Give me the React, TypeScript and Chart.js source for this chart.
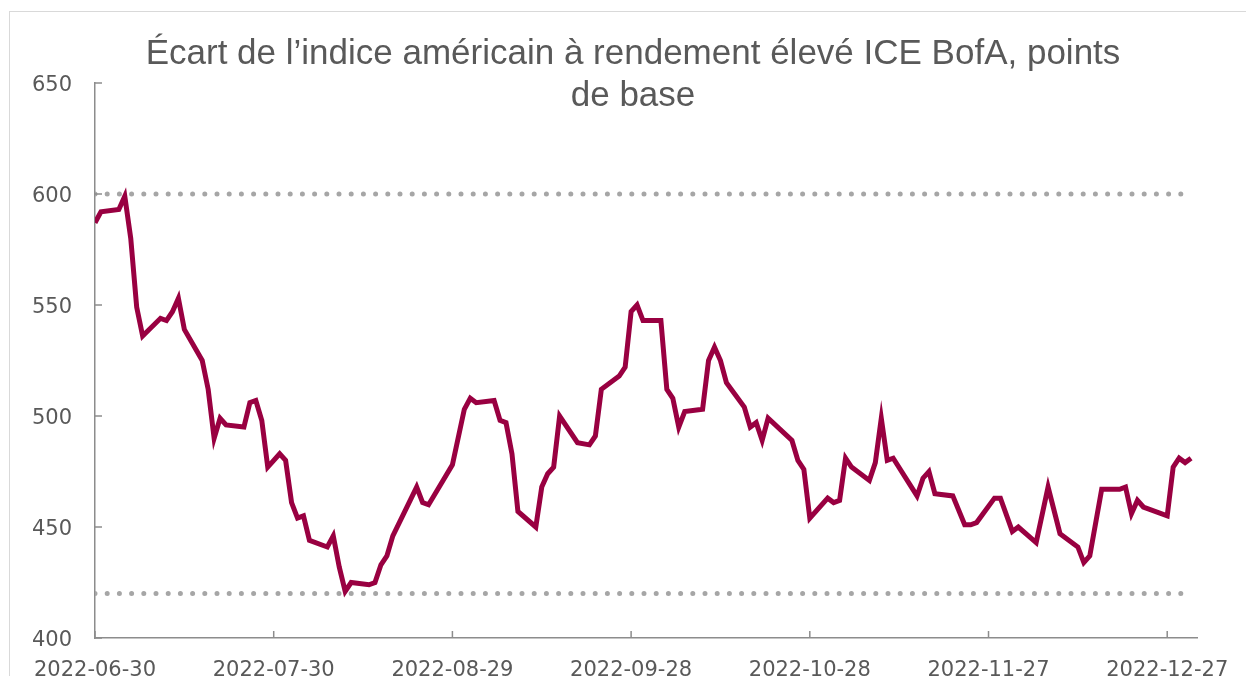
import React, { useEffect, useRef } from "react";
import { Chart, registerables } from "chart.js";

Chart.register(...registerables);

// ---- Data ----
const dates: string[] = [
  "2022-06-30", "2022-07-01", "2022-07-04", "2022-07-05", "2022-07-06", "2022-07-07", "2022-07-08",
  "2022-07-11", "2022-07-12", "2022-07-13", "2022-07-14", "2022-07-15",
  "2022-07-18", "2022-07-19", "2022-07-20", "2022-07-21", "2022-07-22",
  "2022-07-25", "2022-07-26", "2022-07-27", "2022-07-28", "2022-07-29",
  "2022-07-31", "2022-08-01", "2022-08-02", "2022-08-03", "2022-08-04", "2022-08-05",
  "2022-08-08", "2022-08-09", "2022-08-10", "2022-08-11", "2022-08-12",
  "2022-08-15", "2022-08-16", "2022-08-17", "2022-08-18", "2022-08-19",
  "2022-08-23", "2022-08-24", "2022-08-25", "2022-08-29", "2022-08-31",
  "2022-09-01", "2022-09-02", "2022-09-05", "2022-09-06", "2022-09-07", "2022-09-08", "2022-09-09",
  "2022-09-12", "2022-09-13", "2022-09-14", "2022-09-15", "2022-09-16",
  "2022-09-19", "2022-09-21", "2022-09-22", "2022-09-23",
  "2022-09-26", "2022-09-27", "2022-09-28", "2022-09-29", "2022-09-30",
  "2022-10-03", "2022-10-04", "2022-10-05", "2022-10-06", "2022-10-07",
  "2022-10-10", "2022-10-11", "2022-10-12", "2022-10-13", "2022-10-14",
  "2022-10-17", "2022-10-18", "2022-10-19", "2022-10-20", "2022-10-21",
  "2022-10-25", "2022-10-26", "2022-10-27", "2022-10-28",
  "2022-10-31", "2022-11-01", "2022-11-02", "2022-11-03", "2022-11-04",
  "2022-11-07", "2022-11-08", "2022-11-09", "2022-11-10", "2022-11-11",
  "2022-11-15", "2022-11-16", "2022-11-17", "2022-11-18",
  "2022-11-21", "2022-11-23", "2022-11-24", "2022-11-25",
  "2022-11-28", "2022-11-29", "2022-12-01", "2022-12-02",
  "2022-12-05", "2022-12-07", "2022-12-09",
  "2022-12-12", "2022-12-13", "2022-12-14", "2022-12-16",
  "2022-12-19", "2022-12-20", "2022-12-21", "2022-12-22", "2022-12-23",
  "2022-12-27", "2022-12-28", "2022-12-29", "2022-12-30", "2022-12-31",
];

const spread: number[] = [
  587, 592, 593, 599, 580, 549, 536,
  544, 543, 547, 553, 539,
  525, 512, 490, 499, 496,
  495, 506, 507, 498, 477,
  483, 480, 461, 454, 455, 444,
  441, 446, 432, 421, 425,
  424, 425, 433, 437, 446,
  468, 461, 460, 478, 503,
  508, 506, 507, 498, 497, 483, 457,
  450, 468, 474, 477, 500,
  488, 487, 491, 512,
  518, 522, 547, 550, 543,
  543, 512, 508, 495, 502,
  503, 525, 531, 525, 515,
  504, 495, 497, 489, 499,
  489, 480, 476, 454,
  463, 461, 462, 481, 477,
  471, 479, 499, 480, 481,
  464, 472, 475, 465,
  464, 451, 451, 452,
  463, 463, 448, 450,
  443, 468, 447,
  441, 434, 437, 467,
  467, 468, 456, 462, 459,
  455, 477, 481, 479, 481,
];

const upperBand = 600;
const lowerBand = 420;

const tickLabels: string[] = [
  "2022-06-30", "2022-07-30", "2022-08-29", "2022-09-28",
  "2022-10-28", "2022-11-27", "2022-12-27",
];

const titleLines: string[] = [
  "Écart de l’indice américain à rendement élevé ICE BofA, points",
  "de base",
];

const START_DATE = "2022-06-30";
const END_DATE = "2023-01-01";

// ---- Helpers ----
const DAY = 86400000;
const toDay = (s: string) =>
  Math.round((Date.parse(s + "T00:00:00Z") - Date.parse(START_DATE + "T00:00:00Z")) / DAY);

const LINE_COLOR = "#990041";
const DOT_COLOR = "#a6a6a6";
const AXIS_COLOR = "#8c8c8c";
const TEXT_COLOR = "#595959";

const innerTicks = {
  id: "innerTicks",
  afterDraw(chart: any) {
    const { ctx, chartArea, scales } = chart;
    const len = 7;
    ctx.save();
    ctx.strokeStyle = AXIS_COLOR;
    ctx.lineWidth = 1.5;
    scales.y.ticks.forEach((t: any) => {
      const y = scales.y.getPixelForValue(t.value);
      ctx.beginPath();
      ctx.moveTo(chartArea.left, y);
      ctx.lineTo(chartArea.left + len, y);
      ctx.stroke();
    });
    scales.x.ticks.forEach((t: any) => {
      const x = scales.x.getPixelForValue(t.value);
      ctx.beginPath();
      ctx.moveTo(x, chartArea.bottom);
      ctx.lineTo(x, chartArea.bottom - len);
      ctx.stroke();
    });
    ctx.restore();
  },
};

export default function App() {
  const canvasRef = useRef<HTMLCanvasElement | null>(null);

  useEffect(() => {
    const canvas = canvasRef.current;
    if (!canvas) return;

    const xs = dates.map(toDay);
    const points = xs.map((x, i) => ({ x, y: spread[i] }));
    const first = xs[0];
    const last = xs[xs.length - 1];
    const tickDays = tickLabels.map(toDay);

    const chart = new Chart(canvas, {
      type: "line",
      data: {
        datasets: [
          {
            label: "Écart",
            data: points,
            borderColor: LINE_COLOR,
            backgroundColor: LINE_COLOR,
            borderWidth: 5,
            pointRadius: 0,
            tension: 0,
          },
          {
            label: "600",
            data: [
              { x: first, y: upperBand },
              { x: last, y: upperBand },
            ],
            borderColor: DOT_COLOR,
            borderWidth: 5,
            borderDash: [0, 12.2],
            borderCapStyle: "round",
            pointRadius: 0,
          },
          {
            label: "420",
            data: [
              { x: first, y: lowerBand },
              { x: last, y: lowerBand },
            ],
            borderColor: DOT_COLOR,
            borderWidth: 5,
            borderDash: [0, 12.2],
            borderCapStyle: "round",
            pointRadius: 0,
          },
        ],
      },
      options: {
        animation: false,
        responsive: false,
        layout: { padding: 0 },
        plugins: {
          legend: { display: false },
          tooltip: { enabled: false },
          title: {
            display: true,
            text: titleLines,
            color: TEXT_COLOR,
            font: { family: "Liberation Sans", size: 35, weight: "normal", lineHeight: 1.2 },
            padding: { top: 21, bottom: -34 },
          },
        },
        scales: {
          x: {
            type: "linear",
            min: 0,
            max: toDay(END_DATE),
            grid: { display: false, drawTicks: false },
            border: { display: true, color: AXIS_COLOR, width: 1.5 },
            afterBuildTicks: (s: any) => {
              s.ticks = tickDays.map((v) => ({ value: v }));
            },
            afterFit: (s: any) => {
              s.height = 74;
            },
            ticks: {
              autoSkip: false,
              maxRotation: 0,
              padding: 20,
              color: TEXT_COLOR,
              font: { family: "DejaVu Sans", size: 21 },
              callback: (v: any) => {
                const i = tickDays.indexOf(Number(v));
                return i >= 0 ? tickLabels[i] : "";
              },
            },
          },
          y: {
            min: 400,
            max: 650,
            grid: { display: false, drawTicks: false },
            border: { display: true, color: AXIS_COLOR, width: 1.5 },
            afterFit: (s: any) => {
              s.width = 85;
            },
            ticks: {
              stepSize: 50,
              padding: 23,
              labelOffset: 3,
              color: TEXT_COLOR,
              font: { family: "DejaVu Sans", size: 21 },
            },
          },
          spacer: {
            type: "linear",
            position: "right",
            display: true,
            grid: { display: false, drawTicks: false },
            border: { display: false },
            ticks: { display: false },
            afterFit: (s: any) => {
              s.width = 59;
            },
          },
        },
      },
      plugins: [innerTicks],
    } as any);

    return () => chart.destroy();
  }, []);

  return (
    <div
      style={{
        position: "fixed",
        left: 9,
        top: 11,
        width: 1246,
        height: 700,
        border: "1px solid #d9d9d9",
        background: "#ffffff",
      }}
    >
      <canvas ref={canvasRef} width={1246} height={700} style={{ display: "block" }} />
    </div>
  );
}
